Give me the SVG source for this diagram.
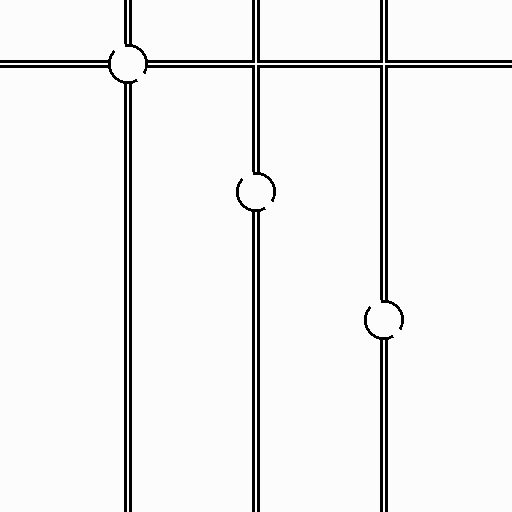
<svg xmlns="http://www.w3.org/2000/svg" width="512" height="512" viewBox="0 0 512 512" shape-rendering="crispEdges">
  <style>
    .outer { stroke: #000; stroke-width: 8; fill: none; }
    .inner { stroke: #fcfcfc; stroke-width: 2; fill: none; }
    .ring { fill: #fcfcfc; stroke: none; }
    .rim { fill: none; stroke: #000; stroke-width: 2.8; stroke-dasharray: 9.8 9.8 52.9 11.75 33.3 0; }
  </style>
  <rect width="512" height="512" fill="#fcfcfc"/>
  <g id="pipes">
    <g class="outer">
      <line x1="0" y1="64" x2="512" y2="64"/>
      <line x1="128" y1="0" x2="128" y2="512"/>
      <line x1="256" y1="0" x2="256" y2="512"/>
      <line x1="384" y1="0" x2="384" y2="512"/>
    </g>
    <g class="inner">
      <line x1="0" y1="64" x2="512" y2="64"/>
      <line x1="128" y1="0" x2="128" y2="512"/>
      <line x1="256" y1="0" x2="256" y2="512"/>
      <line x1="384" y1="0" x2="384" y2="512"/>
    </g>
  </g>
  <g id="node1">
    <circle class="ring" cx="128" cy="64" r="20"/>
    <circle class="rim" cx="128" cy="64" r="18.7"/>
  </g>
  <g id="node2">
    <circle class="ring" cx="256" cy="192" r="20"/>
    <circle class="rim" cx="256" cy="192" r="18.7"/>
  </g>
  <g id="node3">
    <circle class="ring" cx="384" cy="320" r="20"/>
    <circle class="rim" cx="384" cy="320" r="18.7"/>
  </g>
</svg>
